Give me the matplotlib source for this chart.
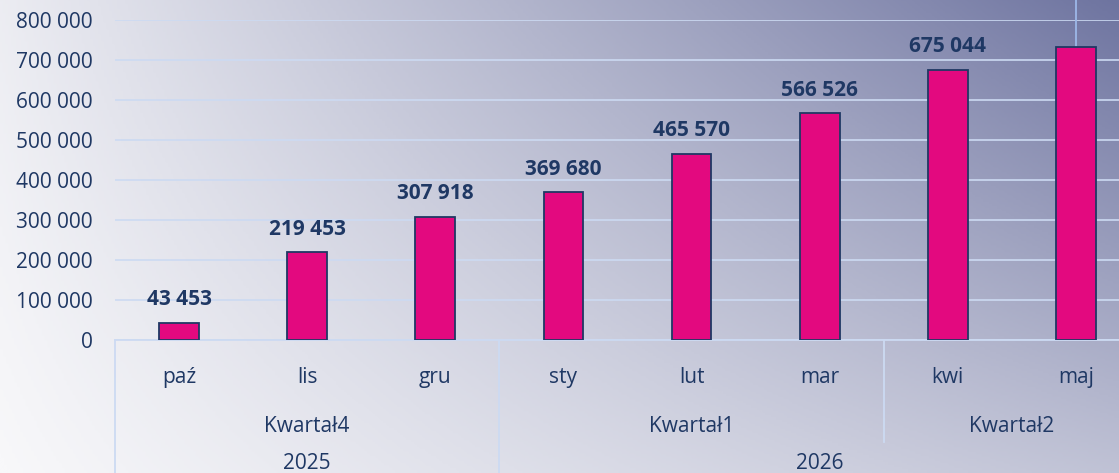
import matplotlib

matplotlib.use("Agg")
import matplotlib.pyplot as plt
import matplotlib.transforms as mtransforms
import numpy as np
from matplotlib.colors import LinearSegmentedColormap

months = ["paź", "lis", "gru", "sty", "lut", "mar", "kwi", "maj"]
values = [43453, 219453, 307918, 369680, 465570, 566526, 675044, 732000]
labels = ["43 453", "219 453", "307 918", "369 680", "465 570", "566 526", "675 044", None]
quarters = ["Kwartał4", "Kwartał1", "Kwartał2"]
quarter_span = [(0, 2), (3, 5), (6, 7)]
years = ["2025", "2026"]
year_span = [(0, 2), (3, 7)]
yticks = [0, 100000, 200000, 300000, 400000, 500000, 600000, 700000, 800000]

NAVY = "#1F3864"
BAR = "#E3097F"
GRID = "#CCDAF2"

plt.rcParams["font.family"] = ["Open Sans", "DejaVu Sans"]

W, H = 1119, 473
fig = plt.figure(figsize=(W / 100, H / 100), dpi=100)

# background: pale bottom-left, slate blue top-right (bilinear blend of corners)
bg = fig.add_axes([0, 0, 1, 1], zorder=-10)
gx, gy = np.meshgrid(np.linspace(0, 1, 400), np.linspace(1, 0, 200))
t = 0.41 * gx * (1 - gy) + 0.09 * (1 - gx) * gy + 1.0 * gx * gy
cmap = LinearSegmentedColormap.from_list("bg", ["#F8F8FA", "#6E74A0"])
bg.imshow(t, cmap=cmap, aspect="auto", extent=[0, 1, 0, 1], vmin=0, vmax=1)
bg.axis("off")

left, right = 115 / W, 1140 / W
bottom, top = 1 - 340 / H, 1 - 20 / H
ax = fig.add_axes([left, bottom, right - left, top - bottom])
ax.patch.set_alpha(0)

x = np.arange(len(months))
ax.bar(x, values, width=0.31, color=BAR, edgecolor=NAVY, linewidth=1.3, zorder=3)
for xi, v, lab in zip(x, values, labels):
    if lab:
        ax.annotate(lab, (xi, v), xytext=(0, 9), textcoords="offset points",
                    ha="center", va="bottom", fontsize=15, fontweight="bold", color=NAVY)

# leader line above the last bar
ax.plot([x[-1], x[-1]], [values[-1], 850000], color="#9DB8E8", lw=1.3, clip_on=False, zorder=2)

ax.set_xlim(-0.5, len(months) - 0.5)
ax.set_ylim(0, 800000)
ax.set_yticks(yticks)
ax.set_yticklabels([f"{v:,}".replace(",", " ") for v in yticks])
ax.tick_params(axis="y", length=0, pad=16, labelsize=15, labelcolor=NAVY)
ax.set_xticks([])
for s in ax.spines.values():
    s.set_visible(False)
ax.yaxis.grid(True, color=GRID, lw=1.2, zorder=0)

# multi-level category axis
tr = mtransforms.blended_transform_factory(ax.transData, ax.transAxes)
ybot = -(H - 340) / 320
line_kw = dict(color=GRID, lw=1.3, transform=tr, clip_on=False)
ax.plot([-0.5, len(months) - 0.5], [0, 0], **line_kw)
ax.plot([-0.5, -0.5], [0, ybot], **line_kw)
ax.plot([2.5, 2.5], [0, ybot], **line_kw)
ax.plot([5.5, 5.5], [0, -102 / 320], **line_kw)

txt_kw = dict(transform=tr, ha="center", va="center", fontsize=15, color=NAVY, clip_on=False)
for xi, m in zip(x, months):
    ax.text(xi, -37 / 320, m, **txt_kw)
for q, (a, b) in zip(quarters, quarter_span):
    ax.text((a + b) / 2, -86 / 320, q, **txt_kw)
for yr, (a, b) in zip(years, year_span):
    ax.text((a + b) / 2, -123 / 320, yr, **txt_kw)

fig.savefig("out.png", dpi=100)
